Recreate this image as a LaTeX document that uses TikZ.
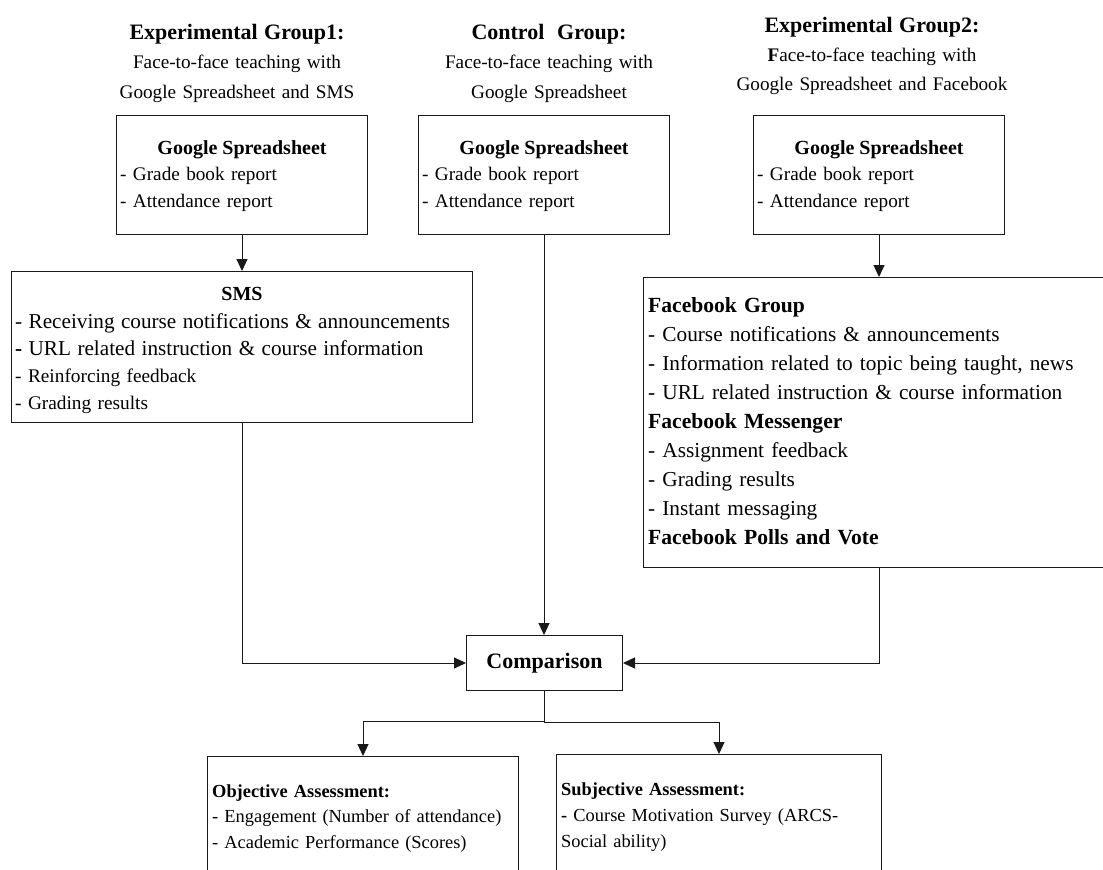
\documentclass[tikz,border=0pt]{standalone}
\usepackage{fontspec}
\setmainfont{Liberation Serif}
\usetikzlibrary{arrows.meta}
\definecolor{lineGray}{RGB}{25,25,25}

\newcommand{\fsz}[2]{\fontsize{#1}{#2}\selectfont}

\begin{document}
\begin{tikzpicture}[x=1pt, y=-1pt,
    box/.style={draw=lineGray, line width=1pt, anchor=north west, inner sep=0pt},
    head/.style={anchor=base, align=center, inner sep=0pt, text width=400pt, font=\fsz{19.2}{29.5}},
    title/.style={anchor=base, inner sep=0pt, font=\bfseries\fsz{20}{27}},
    list/.style={anchor=base west, align=left, inner sep=0pt, text width=520pt, font=\fsz{19.3}{27}},
    arr/.style={draw=lineGray, line width=1pt, -{Triangle[length=12pt,width=11pt]}}]
  \path[use as bounding box, fill=white] (0,0) rectangle (1103,870);
  \clip (0,0) rectangle (1103,870);

  % group headings
  \node[head] (egAhead) at (237,39) {{\bfseries\fsz{22}{29.5}Experimental Group1:}\\Face-to-face teaching with\\Google Spreadsheet and SMS};
  \node[head] (ctrlhead) at (549,39) {{\bfseries\fsz{22}{29.5}Control\ \ Group:}\\Face-to-face teaching with\\Google Spreadsheet};
  \node[head, font=\fsz{19.2}{29}] (egBhead) at (872,32) {{\bfseries\fsz{22}{29}Experimental Group2:}\\\textbf{F}ace-to-face teaching with\\Google Spreadsheet and Facebook};

  % google spreadsheet boxes
  \foreach \n/\x in {A/116, B/418, C/753} {
    \node[box, minimum width=251pt, minimum height=119pt] (gs\n) at (\x,115) {};
    \node[title] (gs\n title) at (gs\n.north |- 0,154) {Google Spreadsheet};
    \node[list, text width=240pt, font=\fsz{19.2}{27}] (gs\n list) at (\x+4,180) {- Grade book report\\- Attendance report};
  }

  % SMS
  \node[box, minimum width=461pt, minimum height=151pt] (sms) at (11,271) {};
  \node[title] (smstitle) at (sms.north |- 0,300) {SMS};
  \node[list] (smslist) at (15,328) {{\fsz{21.2}{27}- Receiving course notifications \& announcements}\\{\fsz{21.2}{27}\textbf{-} URL related instruction \& course information}\\- Reinforcing feedback\\- Grading results};

  % facebook
  \node[box, minimum width=470pt, minimum height=290pt] (fb) at (643,277) {};
  \node[list, font=\fsz{21.3}{29.1}] (fblist) at (648,312) {\textbf{\fsz{21.6}{29.1}Facebook Group}\\- Course notifications \& announcements\\- Information related to topic being taught, news\\- URL related instruction \& course information\\\textbf{\fsz{21.6}{29.1}Facebook Messenger}\\- Assignment feedback\\- Grading results\\- Instant messaging\\\textbf{\fsz{21.6}{29.1}Facebook Polls and Vote}};

  % comparison
  \node[box, minimum width=156pt, minimum height=55pt, font=\bfseries\fsz{22}{27}] (cmp) at (466,635) {Comparison};

  % assessments
  \node[box, minimum width=311pt, minimum height=140pt] (obj) at (207,756) {};
  \node[list, text width=300pt, font=\fsz{18.4}{25.5}] (objlist) at (212,797) {\textbf{Objective Assessment:}\\- Engagement (Number of attendance)\\- Academic Performance (Scores)};
  \node[box, minimum width=325pt, minimum height=140pt] (subj) at (556,754) {};
  \node[list, text width=315pt, font=\fsz{18.4}{26}] (subjlist) at (561,795) {\textbf{Subjective Assessment:}\\\textbf{-} Course Motivation Survey (ARCS-\\Social ability)};

  % connectors
  \draw[arr] (gsA.south) -- (sms.north);
  \draw[arr] (gsB.south) -- (gsB.south |- cmp.north);
  \draw[arr] (gsC.south) -- (gsC.south |- fb.north);
  \draw[arr] (sms.south) |- (cmp.west);
  \coordinate (fbout) at (gsC.south |- fb.south);
  \draw[arr] (fbout) |- (cmp.east);
  \draw[arr] (cmp.south) -- ++(0,30) -| (obj.north);
  \draw[arr] (cmp.south) -- ++(0,31) -| (subj.north);
\end{tikzpicture}
\end{document}
